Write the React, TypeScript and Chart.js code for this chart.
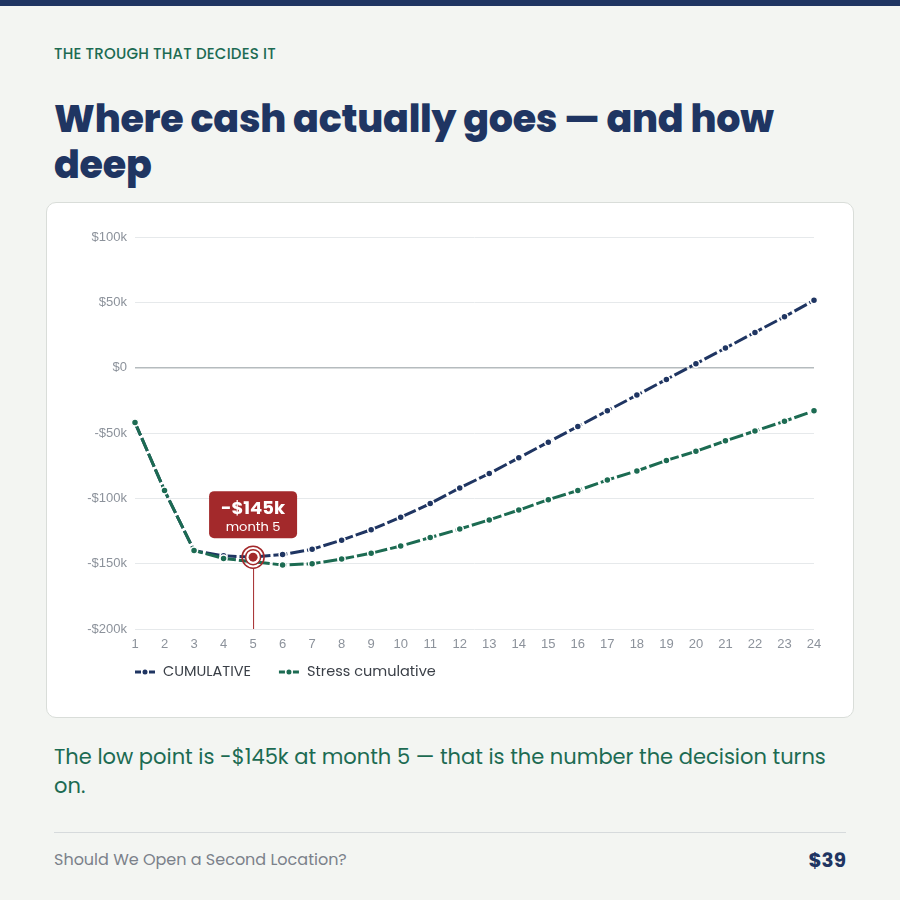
import React, { useEffect, useRef } from "react";
import { Chart, registerables } from "chart.js";

Chart.register(...registerables);

// ---- data (values in $ thousands) ----
const months = ["1", "2", "3", "4", "5", "6", "7", "8", "9", "10", "11", "12", "13", "14", "15", "16", "17", "18", "19", "20", "21", "22", "23", "24"];
const cumulative = [-42, -94, -140, -144, -145, -143, -139, -132, -124, -114.5, -104, -92, -81, -69, -57, -45, -33, -21, -9, 3, 15, 27, 39, 51.5];
const stressCumulative = [-42, -94, -140, -146, -148.5, -151, -150, -146.5, -142, -136.5, -130, -123.5, -116.5, -109, -101, -94, -86, -79, -71, -64, -56, -48.5, -41, -33];
const seriesLabels = ["CUMULATIVE", "Stress cumulative"];
const yTickValues = [-200, -150, -100, -50, 0, 50, 100];

const NAVY = "#1f3562";
const GREEN = "#1c6b52";
const RED = "#a3292b";
const UI_FONT = "Poppins, Inter, 'Noto Sans', sans-serif";

const fmtK = (v: number) => (v === 0 ? "$0" : v < 0 ? `-$${Math.abs(v)}k` : `$${v}k`);

const legendPlugin = {
  id: "customLegend",
  afterDraw(chart: any) {
    const { ctx, chartArea } = chart;
    const y = chartArea.bottom + 43;
    let x = chartArea.left;
    ctx.save();
    ctx.font = `400 14.5px ${UI_FONT}`;
    ctx.textBaseline = "middle";
    chart.data.datasets.forEach((ds: any) => {
      const c = ds.borderColor;
      ctx.strokeStyle = c;
      ctx.fillStyle = c;
      ctx.lineWidth = 3;
      ctx.beginPath();
      ctx.moveTo(x, y);
      ctx.lineTo(x + 6, y);
      ctx.moveTo(x + 14, y);
      ctx.lineTo(x + 20, y);
      ctx.stroke();
      ctx.beginPath();
      ctx.arc(x + 10, y, 2.5, 0, Math.PI * 2);
      ctx.fill();
      ctx.fillStyle = "#3a3f47";
      ctx.textAlign = "left";
      ctx.fillText(ds.label, x + 28, y);
      x += 28 + ctx.measureText(ds.label).width + 28;
    });
    ctx.restore();
  },
};

const troughPlugin = {
  id: "trough",
  afterDatasetsDraw(chart: any) {
    const data = chart.data.datasets[0].data as number[];
    let idx = 0;
    data.forEach((v, i) => {
      if (v < data[idx]) idx = i;
    });
    const meta = chart.getDatasetMeta(0);
    const pt = meta.data[idx];
    if (!pt) return;
    const { ctx, chartArea } = chart;
    const px = pt.x;
    const py = pt.y;
    ctx.save();
    // drop line
    ctx.strokeStyle = RED;
    ctx.lineWidth = 1;
    ctx.beginPath();
    ctx.moveTo(px + 0.5, py + 11);
    ctx.lineTo(px + 0.5, chartArea.bottom);
    ctx.stroke();
    // target rings
    ctx.lineWidth = 1.5;
    ctx.beginPath();
    ctx.arc(px, py, 11, 0, Math.PI * 2);
    ctx.stroke();
    ctx.fillStyle = "#ffffff";
    ctx.beginPath();
    ctx.arc(px, py, 7.5, 0, Math.PI * 2);
    ctx.fill();
    ctx.beginPath();
    ctx.arc(px, py, 7.5, 0, Math.PI * 2);
    ctx.stroke();
    ctx.fillStyle = RED;
    ctx.beginPath();
    ctx.arc(px, py, 4.5, 0, Math.PI * 2);
    ctx.fill();
    // label box
    const w = 88;
    const h = 47;
    const bx = px - w / 2;
    const by = py - 66;
    ctx.fillStyle = RED;
    ctx.beginPath();
    (ctx as any).roundRect(bx, by, w, h, 5);
    ctx.fill();
    ctx.fillStyle = "#ffffff";
    ctx.textAlign = "center";
    ctx.textBaseline = "middle";
    ctx.font = `700 18px ${UI_FONT}`;
    ctx.fillText(fmtK(data[idx]), px, by + 18);
    ctx.font = `400 13px ${UI_FONT}`;
    ctx.fillText(`month ${chart.data.labels[idx]}`, px, by + 37);
    ctx.restore();
  },
};

function CashChart() {
  const ref = useRef<HTMLCanvasElement | null>(null);
  useEffect(() => {
    if (!ref.current) return;
    const chart = new Chart(ref.current, {
      type: "line",
      data: {
        labels: months,
        datasets: [
          {
            label: seriesLabels[0],
            data: cumulative,
            borderColor: NAVY,
            backgroundColor: NAVY,
            borderWidth: 3,
            borderDash: [14, 3],
            pointRadius: 3.5,
            pointBackgroundColor: NAVY,
            pointBorderColor: "#ffffff",
            pointBorderWidth: 1.5,
            tension: 0,
            order: 2,
          },
          {
            label: seriesLabels[1],
            data: stressCumulative,
            borderColor: GREEN,
            backgroundColor: GREEN,
            borderWidth: 3,
            borderDash: [14, 3],
            pointRadius: 3.5,
            pointBackgroundColor: GREEN,
            pointBorderColor: "#ffffff",
            pointBorderWidth: 1.5,
            tension: 0,
            order: 1,
          },
        ],
      },
      options: {
        animation: false,
        responsive: true,
        maintainAspectRatio: false,
        devicePixelRatio: 1,
        layout: { padding: { top: 19, right: 24, bottom: 41, left: 0 } },
        plugins: {
          legend: { display: false },
          tooltip: { enabled: false },
          title: { display: false },
        },
        scales: {
          x: {
            offset: false,
            grid: { display: false, drawTicks: false },
            border: { display: false },
            ticks: {
              color: "#8c929b",
              font: { family: "'Liberation Sans', Arial, sans-serif", size: 13 },
              padding: 8,
              maxRotation: 0,
              autoSkip: false,
            },
            afterFit: (s: any) => {
              s.height = 28;
            },
          },
          y: {
            min: -200,
            max: 100,
            afterBuildTicks: (s: any) => {
              s.ticks = yTickValues.map((v) => ({ value: v }));
            },
            grid: {
              drawTicks: false,
              color: (c: any) => (c.tick && c.tick.value === 0 ? "#b5bbbe" : "#e6e9eb"),
              lineWidth: (c: any) => (c.tick && c.tick.value === 0 ? 1.5 : 1),
            },
            border: { display: false },
            ticks: {
              color: "#8c929b",
              font: { family: "'Liberation Sans', Arial, sans-serif", size: 13 },
              padding: 8,
              callback: (v: any) => fmtK(Number(v)),
            },
            afterFit: (s: any) => {
              s.width = 73;
            },
          },
        },
      },
      plugins: [troughPlugin, legendPlugin],
    });
    return () => chart.destroy();
  }, []);
  return (
    <div style={{ position: "absolute", left: 62, top: 218, width: 776, height: 480 }}>
      <canvas ref={ref} />
    </div>
  );
}

export default function App() {
  return (
    <div
      style={{
        position: "fixed",
        left: 0,
        top: 0,
        width: 900,
        height: 900,
        background: "#f3f5f2",
        fontFamily: UI_FONT,
        overflow: "hidden",
      }}
    >
      <div style={{ position: "absolute", left: 0, top: 0, width: 900, height: 6, background: NAVY }} />
      <div
        style={{
          position: "absolute",
          left: 54,
          top: 44,
          fontSize: 15,
          lineHeight: "19px",
          color: GREEN,
          fontWeight: 500,
          letterSpacing: 0.2,
        }}
      >
        THE TROUGH THAT DECIDES IT
      </div>
      <div
        style={{
          position: "absolute",
          left: 54,
          top: 96,
          width: 750,
          fontSize: 38,
          lineHeight: "46px",
          color: NAVY,
          fontWeight: 800,
          letterSpacing: -0.25,
        }}
      >
        Where cash actually goes — and how deep
      </div>
      <div
        style={{
          position: "absolute",
          left: 46,
          top: 202,
          width: 806,
          height: 514,
          background: "#ffffff",
          border: "1px solid #d9ddd9",
          borderRadius: 10,
        }}
      />
      <CashChart />
      <div
        style={{
          position: "absolute",
          left: 54,
          top: 742,
          width: 792,
          fontSize: 21,
          lineHeight: "29px",
          color: GREEN,
          fontWeight: 400,
        }}
      >
        The low point is -$145k at month 5 — that is the number the decision turns on.
      </div>
      <div style={{ position: "absolute", left: 54, top: 832, width: 792, height: 1, background: "#d6dadc" }} />
      <div style={{ position: "absolute", left: 54, top: 850, fontSize: 16, lineHeight: "20px", color: "#7b818a" }}>
        Should We Open a Second Location?
      </div>
      <div
        style={{
          position: "absolute",
          right: 54,
          top: 848,
          fontSize: 20,
          lineHeight: "24px",
          color: NAVY,
          fontWeight: 700,
        }}
      >
        $39
      </div>
    </div>
  );
}
